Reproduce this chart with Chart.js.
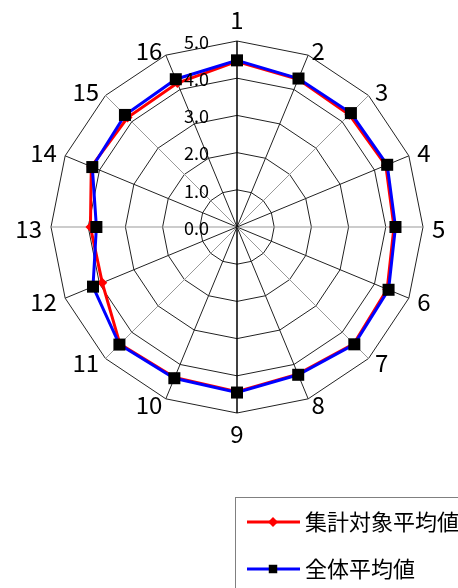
<!DOCTYPE html>
<html>
<head>
<meta charset="utf-8">
<script src="https://cdn.jsdelivr.net/npm/chart.js@4/dist/chart.umd.min.js"></script>
<style>
  html, body { margin: 0; padding: 0; background: #fff; }
  #wrap { width: 458px; height: 588px; position: relative; }
</style>
</head>
<body>
<div id="wrap"><canvas id="radar-chartcanvas"></canvas></div>
<script>
// axis categories
var categories = ['1','2','3','4','5','6','7','8','9','10','11','12','13','14','15','16'];
// 集計対象平均値
var targetAvg = [4.45, 4.30, 4.27, 4.33, 4.22, 4.37, 4.44, 4.28, 4.43, 4.38, 4.45, 3.92, 3.94, 4.24, 4.16, 4.19];
// 全体平均値
var overallAvg = [4.48, 4.32, 4.33, 4.37, 4.26, 4.41, 4.46, 4.30, 4.45, 4.40, 4.47, 4.19, 3.78, 4.21, 4.26, 4.30];
var seriesNames = ['集計対象平均値', '全体平均値'];
var tickValues = [0, 1, 2, 3, 4, 5];

var FONT = "'Noto Sans CJK JP', 'Noto Sans', sans-serif";
var LABEL_FONT = "'Liberation Sans Narrow', 'Noto Sans CJK JP', sans-serif";

// value labels left of the vertical axis (0.0 included)
var tickLabels = {
  id: 'tickLabels',
  afterDraw: function(chart) {
    var s = chart.scales.r;
    var ctx = chart.ctx;
    ctx.save();
    ctx.font = '18px ' + FONT;
    ctx.fillStyle = '#000';
    ctx.textAlign = 'right';
    ctx.textBaseline = 'middle';
    tickValues.forEach(function(v) {
      var d = s.getDistanceFromCenterForValue(v);
      ctx.fillText(v.toFixed(1), s.xCenter - 28, s.yCenter - d + 1);
    });
    ctx.restore();
  }
};

// category labels set just outside each spoke, excel style
var spokeLabels = {
  id: 'spokeLabels',
  afterDraw: function(chart) {
    var s = chart.scales.r;
    var ctx = chart.ctx;
    var r = s.drawingArea;
    ctx.save();
    ctx.font = '24px ' + LABEL_FONT;
    ctx.fillStyle = '#000';
    ctx.textBaseline = 'middle';
    categories.forEach(function(lab, i) {
      var a = s.getIndexAngle(i);
      var sn = Math.sin(a), cs = Math.cos(a);
      var x, y;
      if (Math.abs(sn) < 0.01) {
        ctx.textAlign = 'center';
        x = s.xCenter;
        y = s.yCenter - cs * (r + 21);
      } else {
        ctx.textAlign = sn > 0 ? 'left' : 'right';
        x = s.xCenter + sn * (r + 9);
        y = s.yCenter - cs * (r + 4) + (cs < -0.01 ? 2 : (cs > 0.01 ? -1 : 1.5));
      }
      ctx.fillText(lab, x, y);
    });
    ctx.restore();
  }
};

// boxed legend at the bottom right
var boxLegend = {
  id: 'boxLegend',
  afterDraw: function(chart) {
    var ctx = chart.ctx;
    var ds = chart.data.datasets;
    ctx.save();
    ctx.strokeStyle = '#808080';
    ctx.lineWidth = 1;
    ctx.strokeRect(235.5, 497.5, 260, 120);
    var rows = [522, 569];
    ds.forEach(function(d, i) {
      var y = rows[i];
      ctx.strokeStyle = d.borderColor;
      ctx.lineWidth = 3;
      ctx.beginPath();
      ctx.moveTo(247, y);
      ctx.lineTo(300, y);
      ctx.stroke();
      ctx.fillStyle = d.pointBackgroundColor;
      Chart.helpers.drawPoint(ctx, {pointStyle: d.pointStyle, radius: i == 0 ? 5 : 6, rotation: 0, borderWidth: 0}, 273, y);
      ctx.fillStyle = '#000';
      ctx.font = '22px ' + FONT;
      ctx.textAlign = 'left';
      ctx.textBaseline = 'middle';
      ctx.fillText(d.label, 305, y);
    });
    ctx.restore();
  }
};

var data = {
  labels: categories,
  datasets: [
    {
      label: seriesNames[0],
      data: targetAvg,
      borderColor: '#ff0000',
      backgroundColor: '#ff0000',
      pointBackgroundColor: '#ff0000',
      pointBorderWidth: 0,
      pointStyle: 'rectRot',
      pointRadius: 5,
      borderWidth: 3,
      fill: false,
      order: 2
    },
    {
      label: seriesNames[1],
      data: overallAvg,
      borderColor: '#0000ff',
      backgroundColor: '#000000',
      pointBackgroundColor: '#000000',
      pointBorderWidth: 0,
      pointStyle: 'rect',
      pointRadius: 8.5,
      borderWidth: 3,
      fill: false,
      order: 1
    }
  ]
};

var options = {
  responsive: true,
  maintainAspectRatio: false,
  animation: false,
  layout: { padding: { left: 51, right: 35, top: 41, bottom: 175 } },
  plugins: {
    legend: { display: false },
    tooltip: { enabled: false }
  },
  scales: {
    r: {
      min: 0,
      max: 5,
      ticks: { stepSize: 1, display: false },
      grid: { color: '#222', lineWidth: 1 },
      angleLines: {
        color: function(c) {
          var i = c.index;
          if (i == 0 || i == 8) return '#000';
          return (i % 2 == 0) ? '#999' : '#222';
        },
        lineWidth: function(c) { return (c.index == 0 || c.index == 8) ? 1.5 : 1; }
      },
      pointLabels: { display: false }
    }
  }
};

var chart = new Chart(document.getElementById('radar-chartcanvas'), {
  type: 'radar',
  data: data,
  options: options,
  plugins: [tickLabels, spokeLabels, boxLegend]
});
</script>
</body>
</html>
